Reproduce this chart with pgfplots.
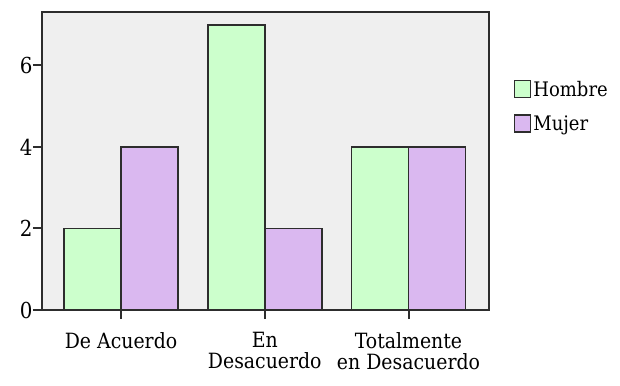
\documentclass[border=0pt]{standalone}
\usepackage{pgfplots}
\pgfplotsset{compat=1.18}
\usepackage{fontspec}
\setmainfont{DejaVu Serif Condensed}
\definecolor{hgreen}{RGB}{204,255,204}
\definecolor{mpurple}{RGB}{218,184,240}
\definecolor{bgc}{RGB}{239,239,239}
\definecolor{axc}{RGB}{45,45,45}
\begin{document}
\begin{tikzpicture}
\begin{axis}[
  scale only axis,
  width=447pt, height=298pt,
  ybar=0pt, bar width=57pt,
  xmin=-0.55, xmax=2.56,
  ymin=0, ymax=7.31,
  xtick={0,1,2},
  xticklabels={De Acuerdo, {En\\Desacuerdo}, {Totalmente\\en Desacuerdo}},
  xticklabel style={align=center, font=\fontsize{21}{21}\selectfont, yshift=-10pt},
  ytick={0,2,4,6},
  yticklabel style={font=\fontsize{22}{22}\selectfont, xshift=3pt},
  /pgf/number format/assume math mode=true,
  axis background/.style={fill=bgc},
  axis line style={axc, line width=2.4pt},
  tick style={axc, line width=2pt},
  major tick length=9pt,
  tick align=outside,
  xtick pos=bottom, ytick pos=left,
  legend cell align=left,
  legend style={at={(1.055,0.775)}, anchor=north west, draw=none, fill=none,
    font=\fontsize{20}{20}\selectfont, row sep=14pt, inner sep=0pt,
    /tikz/every even column/.append style={column sep=2pt}},
  legend image code/.code={\draw[#1, line width=1.6pt] (0pt,-8pt) rectangle (16pt,9pt);},
]
\addplot[fill=hgreen, draw=axc, line width=1.8pt] coordinates {(0,2) (1,7) (2,4)};
\addplot[fill=mpurple, draw=axc, line width=1.8pt] coordinates {(0,4) (1,2) (2,4)};
\legend{Hombre, Mujer}
\end{axis}
\pgfresetboundingbox
\path[use as bounding box] (current axis.south west) ++(-42pt,-75pt) rectangle ([xshift=131pt,yshift=12pt]current axis.north east);
\end{tikzpicture}
\end{document}
